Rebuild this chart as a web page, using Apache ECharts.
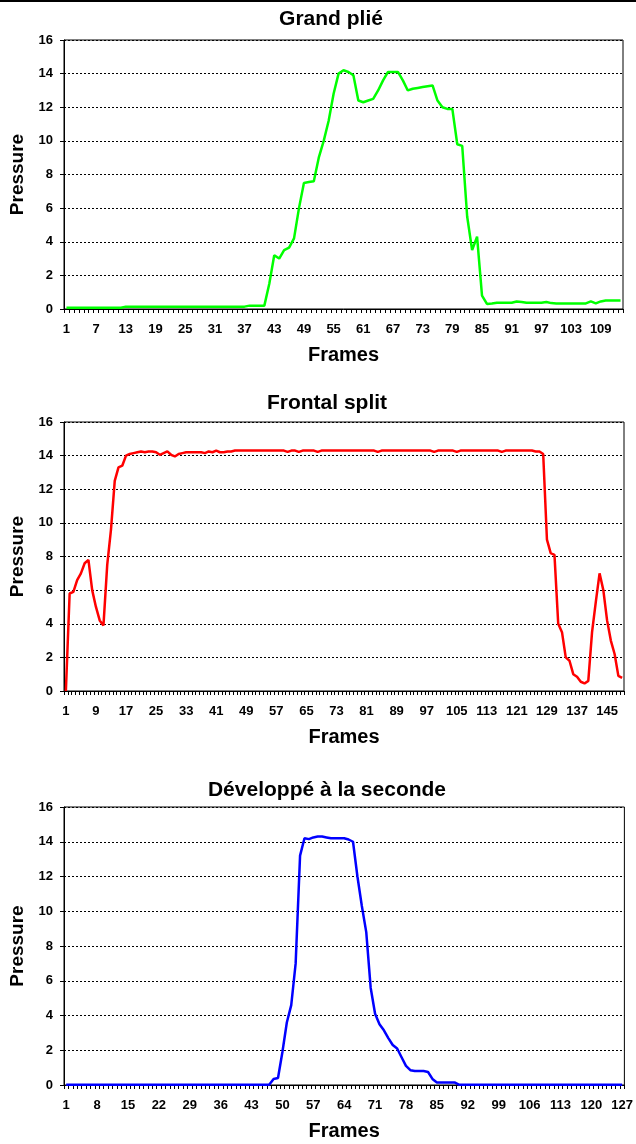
<!DOCTYPE html>
<html><head><meta charset="utf-8">
<script src="https://cdn.jsdelivr.net/npm/echarts@6/dist/echarts.min.js"></script>
<style>html,body{margin:0;padding:0;background:#fff}#c{width:636px;height:1144px}</style>
</head><body><div id="c"></div>
<script>
// ---- Data ----
const titles = ['Grand plié', 'Frontal split', 'Développé à la seconde'];
const yTicks = [0, 2, 4, 6, 8, 10, 12, 14, 16];
const grandPlie = [
 0.08,0.08,0.08,0.08,0.08,0.08,0.08,0.08,0.08,0.08,0.08,0.08,
 0.14,0.14,0.14,0.14,0.14,0.14,0.14,0.14,0.14,0.14,0.14,0.14,0.14,0.14,0.14,0.14,0.14,0.14,0.14,0.14,0.14,0.14,0.14,0.14,0.14,
 0.2,0.2,0.2,0.2,
 1.5,3.2,3.0,3.5,3.65,4.2,6.0,7.5,7.55,7.6,9.0,10.0,11.2,12.8,14.0,14.2,14.1,13.9,12.4,12.3,
 12.4,12.5,13.0,13.6,14.1,14.1,14.1,13.6,13.0,13.1,13.15,13.2,13.25,13.3,12.4,12.0,11.9,11.9,9.8,9.7,
 5.5,3.5,4.3,0.8,
 0.3,0.33,0.37,0.37,0.37,0.37,0.45,0.42,0.37,0.37,0.37,0.37,0.42,0.35,
 0.33,0.33,0.33,0.33,0.33,0.33,0.33,0.45,0.33,0.45,0.5,0.5,0.5,0.5
];
const frontalSplit = [
 0,5.8,5.9,6.6,7.0,7.6,7.8,6.0,5.0,4.2,3.9,7.5,9.6,12.5,13.3,13.4,14.0,14.1,14.15,14.2,
 14.25,14.2,14.25,14.25,14.2,14.05,14.15,14.25,14.05,13.95,14.1,14.15,14.2,14.2,14.2,14.2,14.2,14.15,14.25,14.2,
 14.3,14.2,14.2,14.25,14.25,14.3,14.3,14.3,14.3,14.3,14.3,14.3,14.3,14.3,14.3,14.3,14.3,14.3,14.3,14.22,
 14.3,14.3,14.22,14.3,14.3,14.3,14.3,14.22,14.3,14.3,14.3,14.3,14.3,14.3,14.3,14.3,14.3,14.3,14.3,14.3,
 14.3,14.3,14.3,14.22,14.3,14.3,14.3,14.3,14.3,14.3,14.3,14.3,14.3,14.3,14.3,14.3,14.3,14.3,14.22,14.3,
 14.3,14.3,14.3,14.3,14.22,14.3,14.3,14.3,14.3,14.3,14.3,14.3,14.3,14.3,14.3,14.3,14.22,14.3,14.3,14.3,
 14.3,14.3,14.3,14.3,14.3,14.25,14.25,14.1,9.0,8.2,8.1,4.0,3.5,2.0,1.8,1.0,0.85,0.55,0.45,0.6,
 3.5,5.3,7.0,6.0,4.2,3.0,2.2,0.9,0.78
];
const developpe = [
 0.02,0.02,0.02,0.02,0.02,0.02,0.02,0.02,0.02,0.02,0.02,0.02,0.02,0.02,0.02,0.02,0.02,0.02,0.02,0.02,
 0.02,0.02,0.02,0.02,0.02,0.02,0.02,0.02,0.02,0.02,0.02,0.02,0.02,0.02,0.02,0.02,0.02,0.02,0.02,0.02,
 0.02,0.02,0.02,0.02,0.02,0.02,0.02,
 0.35,0.4,1.9,3.6,4.6,7.0,13.2,14.2,14.15,14.25,14.3,14.3,14.25,14.2,14.2,14.2,14.2,14.13,14.0,12.0,10.3,
 8.8,5.6,4.1,3.5,3.15,2.7,2.3,2.1,1.6,1.1,0.85,0.8,0.8,0.8,0.75,0.35,0.15,0.15,0.15,0.15,0.15,
 0.02,0.02,0.02,0.02,0.02,0.02,0.02,0.02,0.02,0.02,0.02,0.02,0.02,0.02,0.02,0.02,0.02,0.02,0.02,
 0.02,0.02,0.02,0.02,0.02,0.02,0.02,0.02,0.02,0.02,0.02,0.02,0.02,0.02,0.02,0.02,0.02,0.02,0.02
];
const seriesData = [grandPlie, frontalSplit, developpe];
const colors = ['#00FF00', '#FF0000', '#0000FF'];
const labelEvery = [6, 8, 7];

// ---- Layout ----
const FONT = "'Liberation Sans',Arial,Helvetica,sans-serif";
const grids = [
  {left: 64, right: 13, top: 40, height: 269},
  {left: 64, right: 12, top: 422, height: 269},
  {left: 64, right: 6, top: 807, height: 278}
];
const titleY = [19, 403, 790];
const titleX = [331, 327, 327];

const chart = echarts.init(document.getElementById('c'), null, {renderer: 'canvas'});
const option = {
  animation: false,
  backgroundColor: '#fff',
  grid: grids.map(g => Object.assign({show: true, borderColor: '#000', borderWidth: 1, backgroundColor: 'transparent'}, g)),
  xAxis: seriesData.map((d, i) => ({
    type: 'category', gridIndex: i, boundaryGap: true,
    data: d.map((_, k) => String(k + 1)),
    axisLine: {lineStyle: {color: '#000', width: 1}},
    axisTick: {show: true, interval: 0, length: 4, lineStyle: {color: '#000'}},
    axisLabel: {interval: labelEvery[i] - 1, color: '#000', fontFamily: FONT, fontWeight: 'bold', fontSize: 13, margin: 14},
    splitLine: {show: false},
    name: 'Frames', nameLocation: 'middle', nameGap: 36,
    nameTextStyle: {color: '#000', fontFamily: FONT, fontWeight: 'bold', fontSize: 20}
  })),
  yAxis: seriesData.map((d, i) => ({
    type: 'value', gridIndex: i, min: 0, max: 16, interval: 2,
    axisLine: {show: true, lineStyle: {color: '#000', width: 1}},
    axisTick: {show: true, length: 4, lineStyle: {color: '#000'}},
    axisLabel: {color: '#000', fontFamily: FONT, fontWeight: 'bold', fontSize: 13, margin: 11,
      formatter: v => yTicks.includes(v) ? String(v) : ''},
    splitLine: {show: true, lineStyle: {color: '#000', type: [2, 2], width: 1}},
    name: 'Pressure', nameLocation: 'middle', nameRotate: 90, nameGap: 37,
    nameTextStyle: {color: '#000', fontFamily: FONT, fontWeight: 'bold', fontSize: 19}
  })),
  series: seriesData.map((d, i) => ({
    type: 'line', xAxisIndex: i, yAxisIndex: i, data: d,
    showSymbol: false, symbol: 'none',
    lineStyle: {color: colors[i], width: 2.5}, itemStyle: {color: colors[i]}
  })),
  graphic: [
    {type: 'rect', shape: {x: 0, y: 0, width: 636, height: 2}, style: {fill: '#000'}},
    ...titles.map((t, i) => ({
      type: 'text', x: titleX[i], y: titleY[i],
      style: {text: t, fill: '#000', font: "bold 21px " + FONT, textAlign: 'center', textVerticalAlign: 'middle'}
    }))
  ]
};
chart.setOption(option);
</script></body></html>
